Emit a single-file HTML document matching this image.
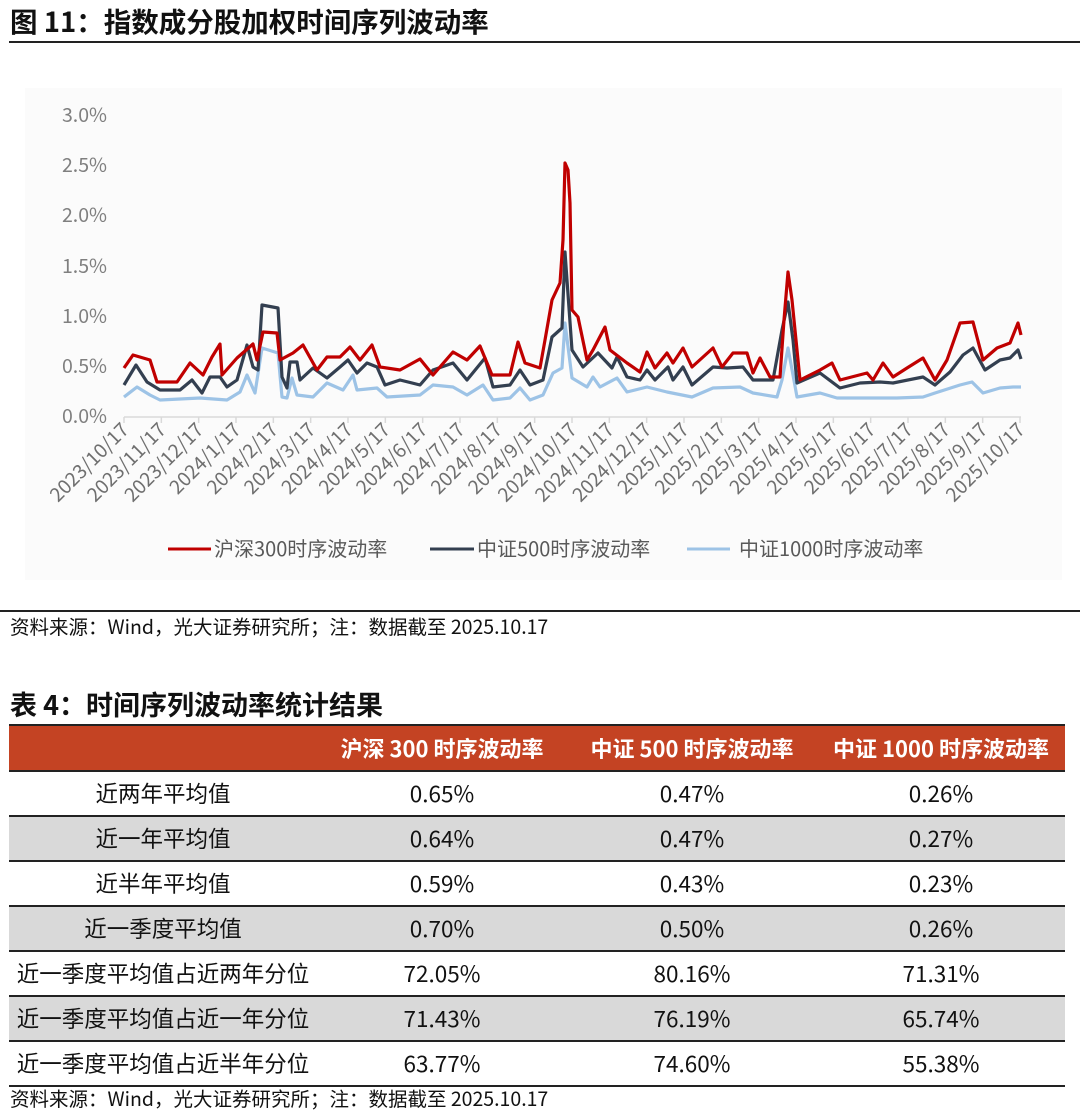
<!DOCTYPE html>
<html><head><meta charset="utf-8"><style>
body{margin:0;width:1080px;height:1119px;background:#fff;position:relative;font-family:"Noto Sans CJK SC","Liberation Sans",sans-serif;overflow:hidden}
.a{position:absolute;white-space:nowrap}
table{position:absolute;left:9px;top:724px;width:1056px;border-collapse:collapse;font-size:22.5px;color:#111}
td{height:43px;text-align:center;padding:0;border-bottom:2px solid #222;line-height:1}
tr.h td{background:#c44323;color:#fff;font-weight:bold;height:44px;border-top:2px solid #222;font-size:22px}
tr.g td{background:#d9d9d9}
</style></head><body>
<div class="a" style="left:10px;top:1px;font-size:27.5px;font-weight:bold;color:#111;line-height:38px">图 11：指数成分股加权时间序列波动率</div>
<div class="a" style="left:9px;top:41px;width:1071px;height:2px;background:#222"></div>
<svg class="a" style="left:0;top:0" width="1080" height="600" xmlns="http://www.w3.org/2000/svg">
<rect x="25" y="88" width="1037" height="492" fill="#fbfbfb"/>
<g font-size="19.5" fill="#7f7f7f" text-anchor="end" font-family="Noto Sans CJK SC, Liberation Sans, sans-serif">
<text x="107" y="122">3.0%</text><text x="107" y="172">2.5%</text><text x="107" y="222">2.0%</text><text x="107" y="273">1.5%</text><text x="107" y="323">1.0%</text><text x="107" y="373">0.5%</text><text x="107" y="423">0.0%</text>
</g>
<line x1="124" y1="417" x2="1021" y2="417" stroke="#d9d9d9" stroke-width="1.5"/>
<g id="ticks" stroke="#d9d9d9" stroke-width="1.5"></g>
<g id="labs" font-size="19.5" fill="#6f6f6f" text-anchor="end" font-family="Noto Sans CJK SC, Liberation Sans, sans-serif"></g>
<polyline fill="none" stroke="#9dc3e6" stroke-width="3.2" stroke-linejoin="round" points="124,397 137,387 150,395 160,400 200,398 227,400 240,392 247,375 255,393 262,348 278,353 282,397 287,398 292,378 297,395 313,397 327,383 343,390 353,375 357,390 377,388 387,397 420,395 433,385 453,387 467,395 483,385 493,400 510,398 520,388 530,400 543,395 553,373 562,368 565,323 572,378 587,387 593,377 600,387 617,378 627,392 647,387 667,392 692,397 713,388 740,387 753,393 777,397 782,380 788,348 793,375 797,397 820,393 837,398 873,398 897,398 923,397 935,393 960,385 972,382 983,393 1000,388 1013,387 1021,387"/>
<polyline fill="none" stroke="#333f50" stroke-width="3.2" stroke-linejoin="round" points="124,385 136,365 147,382 160,390 180,390 192,380 202,393 210,377 220,377 227,387 237,380 247,345 253,367 258,370 262,305 278,308 282,377 287,388 290,362 297,362 300,380 313,368 327,378 340,367 348,360 357,373 367,363 377,367 385,385 400,380 420,385 433,370 453,363 467,380 485,358 493,387 510,385 520,370 530,385 543,380 552,337 562,328 565,252 572,350 583,367 598,353 612,368 617,357 627,377 640,380 647,370 655,380 668,367 673,380 683,367 692,385 713,367 727,368 743,367 753,380 773,380 782,330 788,302 793,340 797,383 820,373 840,388 860,383 880,382 893,383 923,377 935,385 950,372 963,355 973,348 985,370 1000,360 1010,358 1018,350 1021,359"/>
<polyline fill="none" stroke="#c00000" stroke-width="3.2" stroke-linejoin="round" points="124,368 133,355 150,360 157,382 177,382 190,363 203,375 212,357 220,344 222,375 237,358 253,344 257,360 263,332 277,333 280,360 293,353 303,345 317,370 327,357 340,357 350,347 360,360 372,345 380,367 400,370 420,359 433,375 453,352 467,360 480,346 492,375 510,375 518,342 525,363 540,368 545,340 552,300 560,283 563,240 565,163 568,170 570,203 572,310 578,317 587,360 593,350 605,327 610,350 627,363 640,372 647,352 655,368 667,353 673,363 683,348 692,367 713,348 722,367 733,353 747,353 753,373 760,358 770,377 780,377 784,320 788,272 792,300 800,380 820,370 832,363 840,380 867,373 873,380 883,363 893,377 907,368 923,358 935,380 947,360 960,323 973,322 983,360 997,348 1010,343 1018,323 1021,335"/>
<g font-size="20" fill="#595959" font-family="Noto Sans CJK SC, Liberation Sans, sans-serif">
<line x1="168" y1="549" x2="211" y2="549" stroke="#c00000" stroke-width="3"/><text x="214" y="556">沪深300时序波动率</text>
<line x1="430" y1="549" x2="474" y2="549" stroke="#333f50" stroke-width="3"/><text x="477" y="556">中证500时序波动率</text>
<line x1="687" y1="549" x2="730" y2="549" stroke="#9dc3e6" stroke-width="3"/><text x="739" y="556">中证1000时序波动率</text>
</g>
</svg>
<div class="a" style="left:0;top:610px;width:1080px;height:1.5px;background:#222"></div>
<div class="a" style="left:10px;top:612px;font-size:19.5px;color:#111;line-height:28px">资料来源：Wind，光大证券研究所；注：数据截至 2025.10.17</div>
<div class="a" style="left:10px;top:685px;font-size:27px;font-weight:bold;color:#111;line-height:38px">表 4：时间序列波动率统计结果</div>
<table>
<tr class="h"><td style="width:308px"></td><td style="width:250px">沪深 300 时序波动率</td><td style="width:250px">中证 500 时序波动率</td><td>中证 1000 时序波动率</td></tr>
<tr><td>近两年平均值</td><td>0.65%</td><td>0.47%</td><td>0.26%</td></tr>
<tr class="g"><td>近一年平均值</td><td>0.64%</td><td>0.47%</td><td>0.27%</td></tr>
<tr><td>近半年平均值</td><td>0.59%</td><td>0.43%</td><td>0.23%</td></tr>
<tr class="g"><td>近一季度平均值</td><td>0.70%</td><td>0.50%</td><td>0.26%</td></tr>
<tr><td>近一季度平均值占近两年分位</td><td>72.05%</td><td>80.16%</td><td>71.31%</td></tr>
<tr class="g"><td>近一季度平均值占近一年分位</td><td>71.43%</td><td>76.19%</td><td>65.74%</td></tr>
<tr><td>近一季度平均值占近半年分位</td><td>63.77%</td><td>74.60%</td><td>55.38%</td></tr>
</table>
<div class="a" style="left:10px;top:1084px;font-size:19.5px;color:#111;line-height:28px">资料来源：Wind，光大证券研究所；注：数据截至 2025.10.17</div>
<script>
var ns="http://www.w3.org/2000/svg",t=document.getElementById("ticks"),l=document.getElementById("labs");
for(var i=0;i<=24;i++){var x=124+i*(896/24);
var ln=document.createElementNS(ns,"line");ln.setAttribute("x1",x);ln.setAttribute("x2",x);ln.setAttribute("y1",417);ln.setAttribute("y2",423);t.appendChild(ln);
var m=(10+i-1)%12+1,y=2023+Math.floor((9+i)/12);
var tx=document.createElementNS(ns,"text");tx.textContent=y+"/"+m+"/17";tx.setAttribute("transform","translate("+(x+6)+",431) rotate(-45)");l.appendChild(tx);}
</script>
</body></html>
